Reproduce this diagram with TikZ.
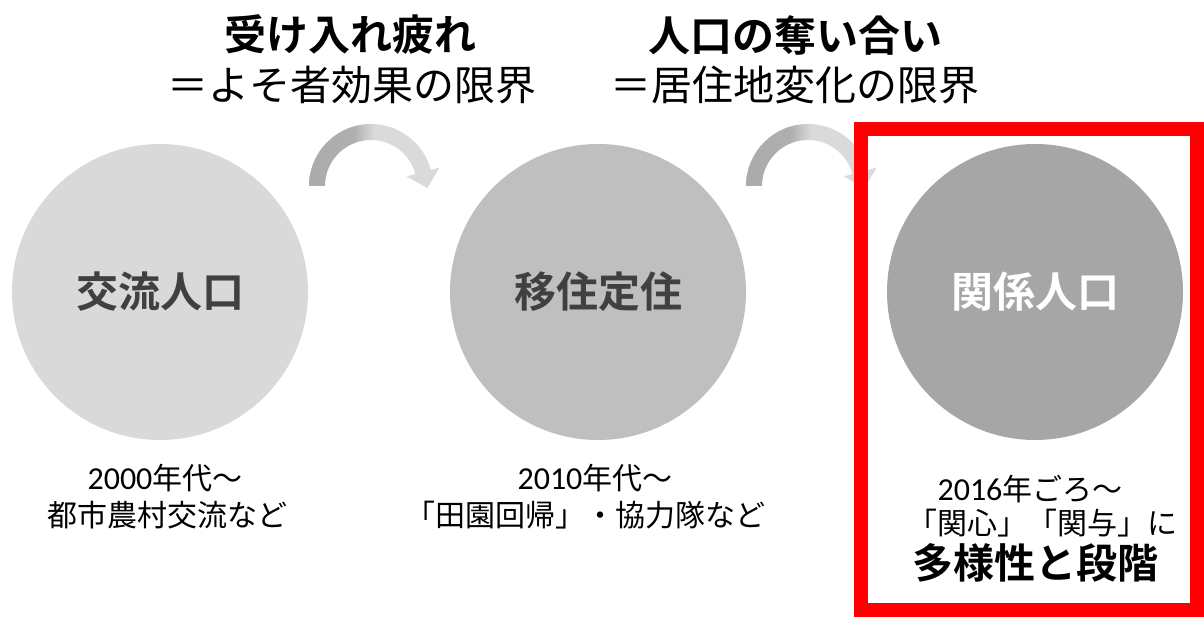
\documentclass[tikz,border=0pt]{standalone}
\usepackage{fontspec}
\newfontfamily\jp{Noto Sans CJK JP}
\newfontfamily\jpb{Noto Sans CJK JP Bold}
\newfontfamily\lat{Carlito}
\definecolor{c1}{HTML}{D9D9D9}
\definecolor{c2}{HTML}{BFBFBF}
\definecolor{c3}{HTML}{A6A6A6}
\definecolor{dk}{HTML}{404040}
\definecolor{redbox}{HTML}{FF0000}
\definecolor{arl}{HTML}{ABABAB}
\definecolor{arr}{HTML}{DADADA}
\pgfdeclarehorizontalshading{arcshade}{100bp}{color(0bp)=(arl); color(25bp)=(arl); color(42bp)=(arl!92!arr); color(50bp)=(arr); color(75bp)=(arr); color(100bp)=(arr)}
\begin{document}
\begin{tikzpicture}[x=1pt,y=1pt,
  circ/.style={circle,minimum size=296pt,inner sep=0pt},
  clab/.style={font=\fontsize{42}{46}\selectfont\jpb,text=dk},
  ttl/.style={font=\fontsize{42}{46}\selectfont\jpb,text=black},
  subttl/.style={font=\fontsize{41}{46}\selectfont\jp,text=black},
  captxt/.style={font=\fontsize{30}{34}\selectfont\jp,text=black},
  arrowfill/.style={shading=arcshade}]
\useasboundingbox (0,0) rectangle (1204,618);
% titles
\node[ttl] (t1) at (350,583) {受け入れ疲れ};
\node[subttl] (s1) at (352,533) {＝よそ者効果の限界};
\node[ttl] (t2) at (795,583) {人口の奪い合い};
\node[subttl] (s2) at (795,533) {＝居住地変化の限界};
% curved arrows
\shade[arrowfill] ([shift={(371,432)}]180:62) arc[start angle=180,end angle=15,radius=62]
  -- ([shift={(371,432)}]15:71) -- (427.3,430) -- ([shift={(371,432)}]15:37)
  -- ([shift={(371,432)}]15:46) arc[start angle=15,end angle=180,radius=46] -- cycle;
\shade[arrowfill] ([shift={(808,432)}]180:62) arc[start angle=180,end angle=15,radius=62]
  -- ([shift={(808,432)}]15:71) -- (864.3,430) -- ([shift={(808,432)}]15:37)
  -- ([shift={(808,432)}]15:46) arc[start angle=15,end angle=180,radius=46] -- cycle;
% circles
\node[circ,fill=c1] (a) at (160,326) {};
\node[circ,fill=c2] (b) at (598,326) {};
\node[circ,fill=c3] (c) at (1035,326) {};
\node[clab] at (a) {交流人口};
\node[clab] at (b) {移住定住};
\node[clab,text=white] at (c) {関係人口};
% captions
\node[captxt] (a1) at (165,140) {{\lat\fontsize{32}{34}\selectfont 2000}年代～};
\node[captxt] (a2) at (167,103) {都市農村交流など};
\node[captxt] (b1) at (595,140) {{\lat\fontsize{32}{34}\selectfont 2010}年代～};
\node[captxt] (b2) at (585,103) {「田園回帰」・協力隊など};
\node[captxt] (c1n) at (1030,129) {{\lat\fontsize{32}{34}\selectfont 2016}年ごろ～};
\node[captxt] (c2n) at (1042,95) {「関心」「関与」に};
\node[font=\fontsize{41}{46}\selectfont\jpb] (c3n) at (1035,55) {多様性と段階};
% red frame
\draw[redbox,line width=14pt] (861,7.5) rectangle (1197,489);
\end{tikzpicture}
\end{document}
